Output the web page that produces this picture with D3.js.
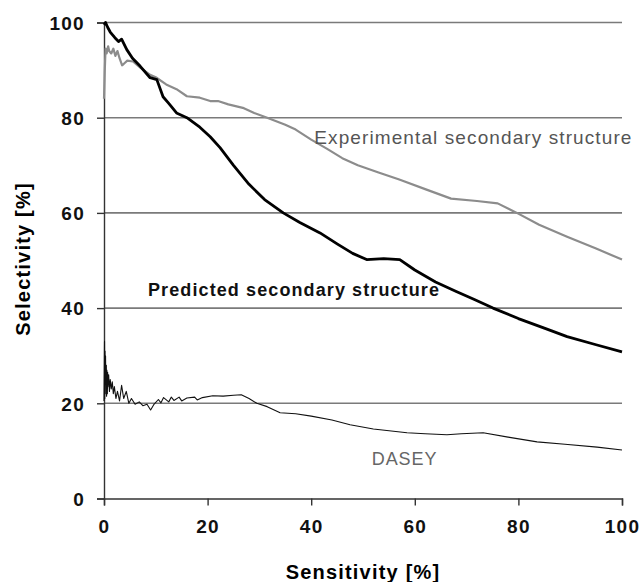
<!DOCTYPE html>
<html>
<head>
<meta charset="utf-8">
<script src="https://cdn.jsdelivr.net/npm/d3@7"></script>
<style>
  body { margin: 0; background: #fff; }
  svg text { font-family: Arial, "Liberation Sans", sans-serif; }
</style>
</head>
<body>
<div id="graph"></div>
<script>
const w = 643;
const h = 582;
const padding = { top: 22.5, bottom: 83.5, left: 104, right: 21 };

const ticks = [0, 20, 40, 60, 80, 100];

// sensitivity (x) / selectivity (y)
const expX = [0, 0.15, 0.3, 0.5, 0.8, 1, 1.4, 1.8, 2.2, 2.6, 3, 3.5, 4, 4.5, 5.6, 7, 8.9, 10, 12, 14, 16, 18.5, 20.5, 22, 24, 27, 29, 31.5, 35, 37, 40, 43, 46, 49, 53, 57, 62, 67, 72, 76, 79.7, 84, 89.4, 95, 100];
const expY = [84, 90, 94.5, 93.5, 95, 94, 93.5, 94.5, 93, 94, 92.5, 91, 91.5, 92, 91.8, 90.5, 89, 88.5, 87, 86, 84.5, 84.2, 83.5, 83.5, 82.8, 82, 81, 80, 78.5, 77.5, 75.4, 73.5, 71.5, 70, 68.5, 67, 65, 63, 62.5, 62, 60, 57.5, 55, 52.5, 50.2];

const predX = [0, 0.3, 0.7, 1.2, 2.1, 2.8, 3.4, 4.4, 5.5, 7, 8.9, 10.2, 11.4, 12.5, 14, 16, 18.5, 20.5, 22.4, 25, 28, 31, 34.6, 37.8, 41.7, 45, 48, 50.7, 54, 57.1, 60, 64, 68, 71.5, 75.1, 80, 85, 89.4, 95, 100];
const predY = [99.5, 100, 99, 98, 96.8, 96, 96.5, 94.3, 92.5, 90.8, 88.4, 88, 84.4, 83, 81, 80, 78, 76, 73.7, 70, 66, 62.8, 60, 58, 55.8, 53.5, 51.5, 50.2, 50.4, 50.2, 48, 45.5, 43.5, 41.8, 40, 37.8, 35.8, 34, 32.3, 30.8];

const daseyX = [0, 0.1, 0.15, 0.2, 0.25, 0.3, 0.35, 0.45, 0.5, 0.55, 0.65, 0.7, 0.75, 0.9, 1.05, 1.2, 1.4, 1.6, 1.8, 2, 2.3, 2.6, 3, 3.4, 3.8, 4.3, 4.8, 5.3, 6, 6.8, 7.5, 8.3, 9, 9.6, 10.5, 11, 11.5, 12.5, 13, 13.5, 14.5, 15, 16, 17.5, 18, 19, 21, 23, 25, 26.5, 28, 29.5, 31.5, 34, 37, 40, 44, 47.5, 52, 58.5, 62, 66.2, 69, 73.2, 78, 83.6, 89, 95.2, 100];
const daseyY = [20.5, 33, 21, 31, 22, 30, 24, 28, 21.5, 27, 22, 26.5, 23.5, 26, 22.5, 25, 23, 24.5, 22, 23.5, 21, 22.5, 20.5, 23.8, 21, 22.5, 20, 21, 19.8, 20.3, 19.5, 19.8, 18.6, 19.7, 20.8, 20.1, 21.2, 20.3, 21.3, 20.6, 21.3, 20.5, 21.1, 21.3, 20.7, 21.2, 21.6, 21.5, 21.7, 21.8, 21, 20, 19.3, 18, 17.8, 17.3, 16.5, 15.5, 14.6, 13.8, 13.6, 13.4, 13.6, 13.8, 12.9, 11.9, 11.4, 10.8, 10.2];

const series = [
  { x: expX, y: expY, color: "#8c8c8c", width: 2.2 },
  { x: predX, y: predY, color: "#000", width: 2.8 },
  { x: daseyX, y: daseyY, color: "#111", width: 1.1 },
];

const labels = [
  { text: "Experimental secondary structure", x: 40.6, y: 76, size: 19, weight: "normal", color: "#555", spacing: 1.1 },
  { text: "Predicted secondary structure", x: 8.5, y: 44, size: 18, weight: "bold", color: "#111", spacing: 1.1 },
  { text: "DASEY", x: 51.7, y: 8.5, size: 18, weight: "normal", color: "#666", spacing: 0.9 },
];

const svg = d3.select("#graph").append("svg").attr("width", w).attr("height", h);

const xScale = d3.scaleLinear().domain([0, 100]).range([padding.left, w - padding.right]);
const yScale = d3.scaleLinear().domain([0, 100]).range([h - padding.bottom, padding.top]);

// horizontal grid
svg
  .append("g")
  .selectAll("line")
  .data(ticks.slice(1))
  .enter()
  .append("line")
  .attr("x1", xScale(0))
  .attr("x2", xScale(100))
  .attr("y1", (d) => yScale(d))
  .attr("y2", (d) => yScale(d))
  .attr("stroke", "#7a7a7a")
  .attr("stroke-width", 1.6);

const yAxis = svg
  .append("g")
  .attr("transform", `translate(${xScale(0)},0)`)
  .call(d3.axisLeft(yScale).tickValues(ticks).tickSize(7).tickPadding(12).tickFormat(d3.format("d")));

const xAxis = svg
  .append("g")
  .attr("transform", `translate(0,${yScale(0)})`)
  .call(d3.axisBottom(xScale).tickValues(ticks).tickSize(7).tickPadding(14).tickFormat(d3.format("d")));

[yAxis, xAxis].forEach((a) => {
  a.select(".domain").attr("stroke", "#333").attr("stroke-width", 1.4);
  a.selectAll(".tick line").attr("stroke", "#333").attr("stroke-width", 1.4);
  a.selectAll(".tick text")
    .attr("fill", "#111")
    .style("font-size", "19px")
    .style("font-weight", "bold")
    .style("letter-spacing", "1.3px");
});
yAxis.selectAll(".tick text").attr("dy", "0.36em");

const line = d3
  .line()
  .x((d) => xScale(d[0]))
  .y((d) => yScale(d[1]));

svg
  .append("g")
  .selectAll("path")
  .data(series)
  .enter()
  .append("path")
  .attr("d", (s) => line(s.x.map((v, i) => [v, s.y[i]])))
  .attr("fill", "none")
  .attr("stroke", (s) => s.color)
  .attr("stroke-width", (s) => s.width)
  .attr("stroke-linejoin", "round");

svg
  .append("g")
  .selectAll("text")
  .data(labels)
  .enter()
  .append("text")
  .attr("x", (d) => xScale(d.x))
  .attr("y", (d) => yScale(d.y))
  .attr("dy", "0.36em")
  .attr("fill", (d) => d.color)
  .style("font-size", (d) => `${d.size}px`)
  .style("font-weight", (d) => d.weight)
  .style("letter-spacing", (d) => `${d.spacing}px`)
  .text((d) => d.text);

svg
  .append("text")
  .attr("x", (xScale(0) + xScale(100)) / 2)
  .attr("y", 572)
  .attr("dy", "0.36em")
  .attr("text-anchor", "middle")
  .style("font-size", "20px")
  .style("font-weight", "bold")
  .style("letter-spacing", "1.2px")
  .text("Sensitivity [%]");

svg
  .append("text")
  .attr("transform", "translate(23,259) rotate(-90)")
  .attr("dy", "0.36em")
  .attr("text-anchor", "middle")
  .style("font-size", "20px")
  .style("font-weight", "bold")
  .style("letter-spacing", "1.2px")
  .text("Selectivity [%]");
</script>
</body>
</html>
